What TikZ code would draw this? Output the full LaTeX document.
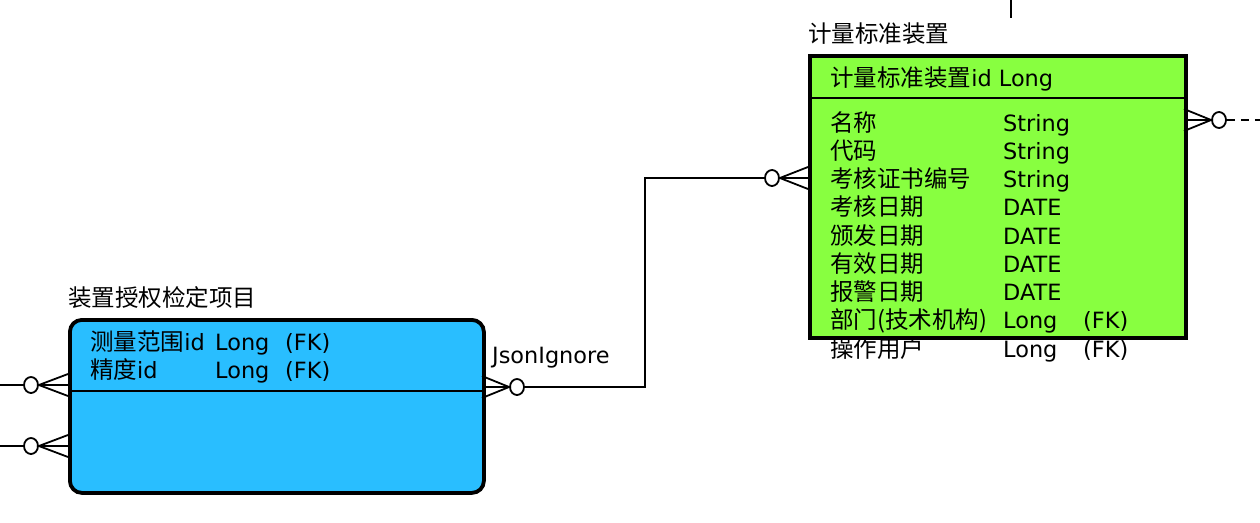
\documentclass[tikz,border=0pt]{standalone}
\usepackage{fontspec}
\usetikzlibrary{shapes.geometric}
\setmainfont{DejaVu Sans}
\newfontfamily\cjk[Scale=1.05]{Noto Sans CJK SC}
\definecolor{entgreen}{RGB}{136,255,64}
\definecolor{entblue}{RGB}{41,190,255}
\begin{document}
\begin{tikzpicture}[x=1pt,y=-1pt,
  ent/.style={draw, line width=3.8pt, inner sep=0pt, anchor=north west},
  sepline/.style={line width=2pt},
  rel/.style={line width=1.8pt},
  opt/.style={draw, line width=1.8pt, ellipse, minimum width=14pt, minimum height=16pt, inner sep=0pt, fill=white},
  txt/.style={anchor=base west, inner sep=0pt, font=\fontsize{22.4pt}{26pt}\selectfont}
]
\useasboundingbox (0,0) rectangle (1260,522);
% entities
\node[ent, fill=entgreen, minimum width=376pt, minimum height=282pt] (std) at (808,54) {};
\node[ent, fill=entblue, rounded corners=12pt, minimum width=414pt, minimum height=173pt] (prj) at (68,318) {};
\draw[sepline] (808,98) -- (1184,98);
\draw[sepline] (68,391) -- (482,391);
% titles
\node[txt] (t1) at (808,42) {\cjk 计量标准装置};
\node[txt] (t2) at (68,306) {\cjk 装置授权检定项目};
% green rows
\node[txt] (g0) at (830,86) {{\cjk 计量标准装置}id Long};
\foreach \n/\a/\b/\c [count=\i] in {131/名称/String/,159/代码/String/,187/考核证书编号/String/,215/考核日期/DATE/,244/颁发日期/DATE/,272/有效日期/DATE/,300/报警日期/DATE/,328/部门(技术机构)/Long/(FK),357/操作用户/Long/(FK)}{
  \node[txt] (ga\i) at (830,\n) {\cjk \a};
  \node[txt] (gb\i) at (1003,\n) {\b};
  \node[txt] (gc\i) at (1083,\n) {\c};
}
% blue rows
\node[txt] (ba1) at (90,350) {\cjk 测量范围{\normalfont id}};
\node[txt] (bb1) at (215,350) {Long};
\node[txt] (bc1) at (285,350) {(FK)};
\node[txt] (ba2) at (90,378) {\cjk 精度{\normalfont id}};
\node[txt] (bb2) at (215,378) {Long};
\node[txt] (bc2) at (285,378) {(FK)};
% relationship JsonIgnore
\node[opt] (o1) at (517,387) {};
\node[opt] (o2) at (772,178) {};
\draw[rel] (482,376) -- (o1.west) -- (482,398) (482,387) -- (o1.west);
\draw[rel] (o1.east) -| (645,178) -- (o2.west);
\draw[rel] (808,167) -- (o2.east) -- (808,189) (808,178) -- (o2.east);
\node[txt] (lbl) at (492,363) {JsonIgnore};
% left relationships
\node[opt] (o3) at (31,385) {};
\node[opt] (o4) at (31,446) {};
\coordinate (l3) at (0,385);
\coordinate (l4) at (0,446);
\draw[rel] (l3) -- (o3.west);
\draw[rel] (68,374) -- (o3.east) -- (68,396) (68,385) -- (o3.east);
\draw[rel] (l4) -- (o4.west);
\draw[rel] (68,435) -- (o4.east) -- (68,457) (68,446) -- (o4.east);
% right relationship
\node[opt] (o5) at (1219,120) {};
\coordinate (r5) at (1260,120);
\draw[rel] (1184,109) -- (o5.west) -- (1184,131) (1184,120) -- (o5.west);
\draw[rel, dash pattern=on 8pt off 6pt] (o5.east) -- (r5);
% top line
\coordinate (tp1) at (1011,0);
\coordinate (tp2) at (1011,18);
\draw[rel] (tp1) -- (tp2);
\end{tikzpicture}
\end{document}
